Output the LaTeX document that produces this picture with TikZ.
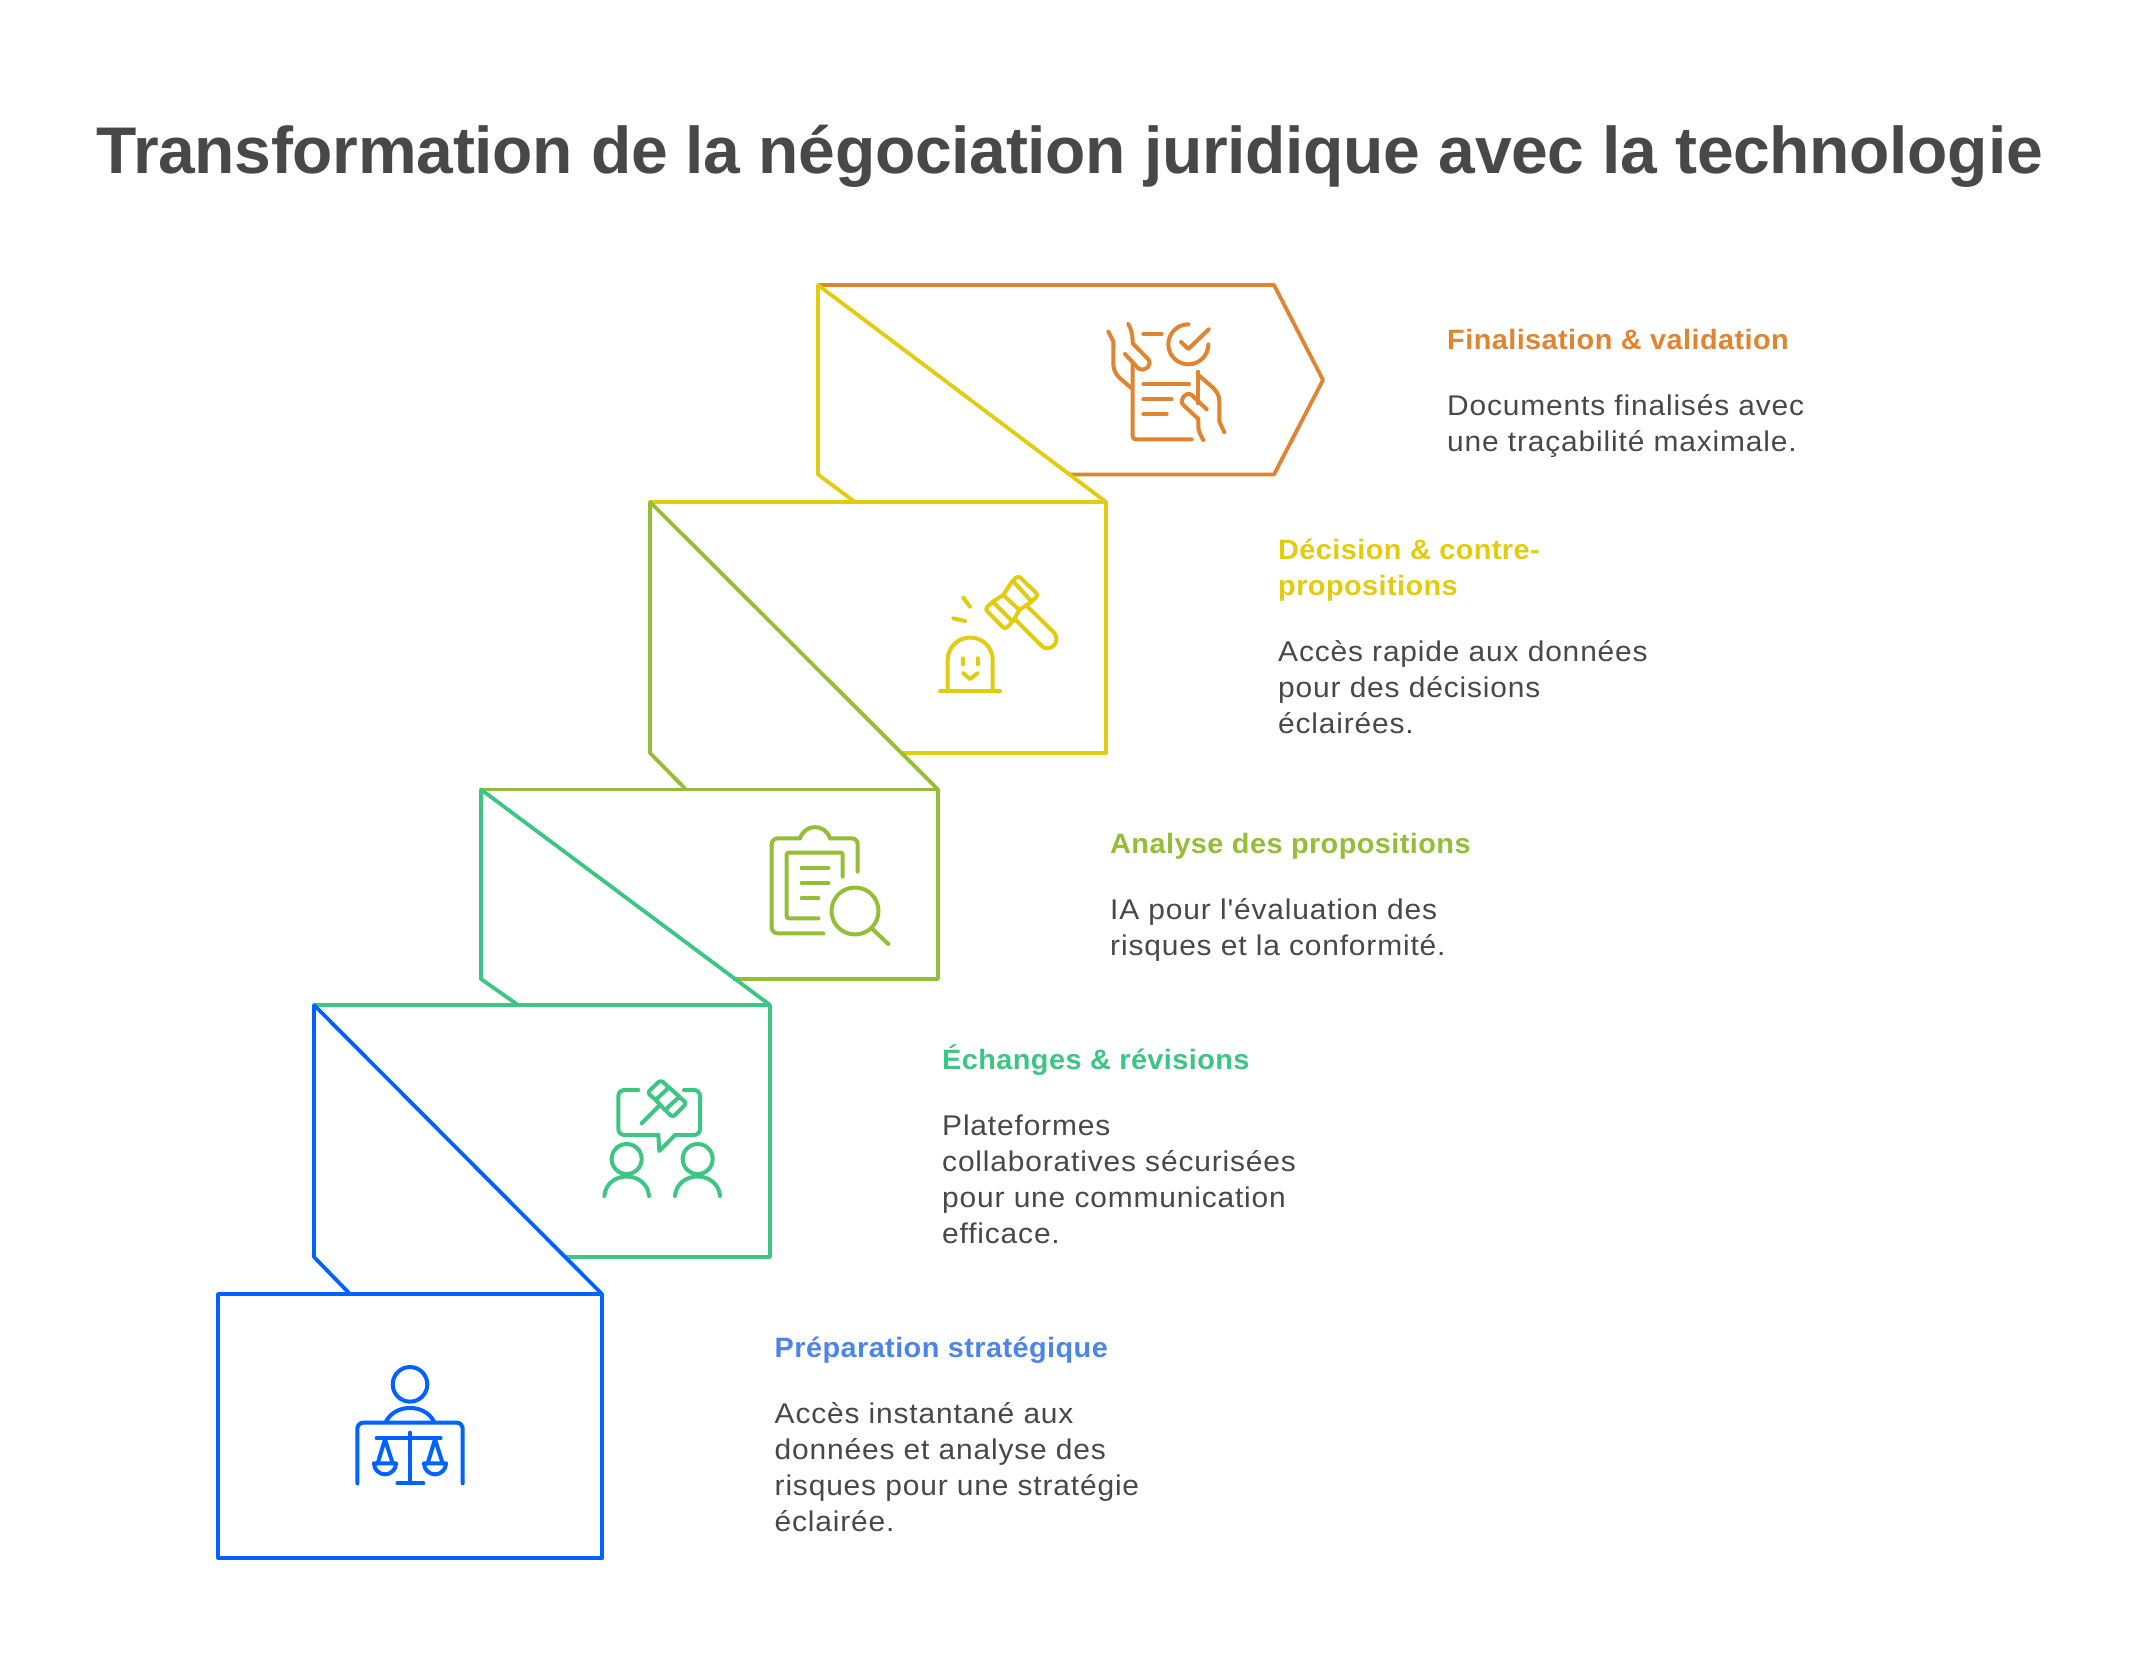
\documentclass[tikz,border=0pt]{standalone}
\usepackage{fontspec}
\setmainfont{Liberation Sans}
\newfontfamily\bodyf[FakeStretch=1.05,LetterSpace=2.95]{Liberation Sans}
\newfontfamily\headf[FakeStretch=1.03,LetterSpace=1.6]{Liberation Sans Bold}
\newfontfamily\titlef[LetterSpace=-0.45]{Liberation Sans Bold}
\definecolor{cblue}{HTML}{0062FF}
\definecolor{cbluet}{HTML}{4B85EA}
\definecolor{cgreen}{HTML}{3CC583}
\definecolor{clime}{HTML}{93BE35}
\definecolor{cyellow}{HTML}{E3CC10}
\definecolor{corange}{HTML}{E08430}
\definecolor{cgrey}{HTML}{484848}
\tikzset{
  outl/.style={draw=#1,line width=3.8pt,line join=round,line cap=butt},
  ico/.style={draw=#1,line width=4pt,line join=round,line cap=round},
  bodytxt/.style={anchor=north west,inner sep=0pt,align=left,text=cgrey,font=\bodyf\fontsize{28.5}{36}\selectfont},
  headtxt/.style={anchor=north west,inner sep=0pt,align=left,text=#1,font=\headf\fontsize{28}{36}\selectfont},
  titletxt/.style={anchor=base,inner sep=0pt,text=cgrey,font=\titlef\fontsize{66}{72}\selectfont},
  icozoom/.style={shift={#1},x=0.33333pt,y=-0.33333pt}
}
\begin{document}
\begin{tikzpicture}[x=1pt,y=-1pt]
\useasboundingbox (0,0) rectangle (2138,1680);
\fill[white] (0,0) rectangle (2138,1680);
\node[titletxt] (title) at (1069.6,173.5) {Transformation de la négociation juridique avec la technologie};

% outlines, from the top step down
\draw[outl=corange] (818,285) -- (1274,285) -- (1323,380) -- (1274,474.5) -- (1070,474.5);
\draw[outl=cyellow] (855,502) -- (818,474.5) -- (818,285) -- (1106,502);
\draw[outl=cyellow] (650,502) -- (1106,502) -- (1106,753) -- (901,753);
\draw[outl=clime] (686,789.5) -- (650,753) -- (650,502) -- (938,789.5);
\draw[outl=clime] (481,789.5) -- (938,789.5) -- (938,979) -- (733,979);
\draw[outl=cgreen] (518,1005) -- (481,979) -- (481,789.5) -- (770,1005);
\draw[outl=cgreen] (314,1005) -- (770,1005) -- (770,1257) -- (566,1257);
\draw[outl=cblue] (350,1294) -- (314,1257) -- (314,1005) -- (602,1294);
\draw[outl=cblue] (218,1294) rectangle (602,1558);

% orange icon
\begin{scope}[icozoom={(1080,300)}]
\draw[ico=corange] (85,95) -- (100,125) -- (100,195) .. controls (102,215) and (110,225) .. (120,235) -- (155,265);
\draw[ico=corange] (145,72) .. controls (152,85) and (158,100) .. (158,130) -- (205,178) .. controls (218,195) and (195,218) .. (175,205) -- (135,162);
\draw[ico=corange,rounded corners=3pt] (158,190) -- (158,418) -- (335,418);
\draw[ico=corange] (190,102) -- (245,102);
\draw[ico=corange] (325,73) arc[start angle=90,end angle=360,radius=20pt];
\draw[ico=corange] (303,126) -- (325,147) -- (386,88);
\draw[ico=corange] (190,253) -- (327,253);
\draw[ico=corange] (190,298) -- (275,298);
\draw[ico=corange] (190,343) -- (260,343);
\draw[ico=corange] (355,215) -- (355,310);
\draw[ico=corange] (355,225) -- (390,255) .. controls (410,272) and (418,285) .. (418,305) -- (418,365) -- (433,397);
\draw[ico=corange] (380,328) -- (335,285) .. controls (318,272) and (295,300) .. (310,315) -- (355,357) -- (355,385) .. controls (358,398) and (363,408) .. (370,420);
\end{scope}

% yellow icon
\begin{scope}[icozoom={(920,560)}]
\draw[ico=cyellow,rounded corners=3pt] (218,125) -- (195,147) -- (255,208) -- (278,185) -- cycle;
\draw[ico=cyellow,rounded corners=3pt] (278,62) -- (295,47) -- (355,105) -- (335,125) -- cycle;
\draw[ico=cyellow] (218,125) -- (250,105) -- (278,62);
\draw[ico=cyellow] (278,185) -- (298,150) -- (335,125);
\draw[ico=cyellow] (250,105) -- (298,150);
\draw[ico=cyellow] (318,135) -- (402,218) .. controls (425,245) and (390,280) .. (365,258) -- (285,178);
\draw[ico=cyellow] (130,113) -- (150,140);
\draw[ico=cyellow] (100,175) -- (135,183);
\draw[ico=cyellow] (83,393) -- (83,300) arc[start angle=180,end angle=0,radius=22.5pt] -- (218,393);
\draw[ico=cyellow] (60,394) -- (240,394);
\draw[ico=cyellow] (128,295) -- (128,313);
\draw[ico=cyellow] (173,295) -- (173,313);
\draw[ico=cyellow] (130,340) -- (150,357) -- (172,340);
\end{scope}

% lime icon
\begin{scope}[icozoom={(750,810)}]
\draw[ico=clime,rounded corners=6pt] (220,370) -- (65,370) -- (65,85) -- (150,85);
\draw[ico=clime] (150,85) .. controls (165,40) and (225,40) .. (240,85);
\draw[ico=clime,rounded corners=6pt] (240,85) -- (323,85) -- (323,185);
\draw[ico=clime,rounded corners=2pt] (205,325) -- (110,325) -- (110,128) -- (278,128) -- (278,200);
\draw[ico=clime] (155,175) -- (235,175);
\draw[ico=clime] (155,220) -- (235,220);
\draw[ico=clime] (155,265) -- (205,265);
\draw[ico=clime] (315,303) circle[radius=23.5pt];
\draw[ico=clime] (365,355) -- (415,402);
\end{scope}

% green icon
\begin{scope}[icozoom={(590,1070)}]
\draw[ico=cgreen,rounded corners=6pt] (145,60) -- (85,60) -- (85,195) -- (205,195);
\draw[ico=cgreen] (205,195) -- (208,243) -- (255,195);
\draw[ico=cgreen,rounded corners=6pt] (255,195) -- (330,195) -- (330,60) -- (282,60);
\draw[ico=cgreen,rounded corners=3pt] (172,68) -- (212,30) -- (237,52) -- (197,90) -- cycle;
\draw[ico=cgreen,rounded corners=3pt] (225,120) -- (268,80) -- (290,100) -- (248,142) -- cycle;
\draw[ico=cgreen] (197,90) -- (225,120);
\draw[ico=cgreen] (237,52) -- (268,80);
\draw[ico=cgreen] (155,160) -- (210,105);
\draw[ico=cgreen] (110,267) circle[radius=15pt];
\draw[ico=cgreen] (43,378) .. controls (50,300) and (170,300) .. (177,378);
\draw[ico=cgreen] (323,267) circle[radius=15pt];
\draw[ico=cgreen] (255,378) .. controls (262,300) and (383,300) .. (390,378);
\end{scope}

% blue icon
\begin{scope}[icozoom={(340,1350)}]
\draw[ico=cblue] (210,103) circle[radius=17.3pt];
\draw[ico=cblue] (138,215) .. controls (165,160) and (255,160) .. (282,215);
\draw[ico=cblue,rounded corners=6pt] (52,400) -- (52,218) -- (368,218) -- (368,400);
\draw[ico=cblue] (210,248) -- (210,400);
\draw[ico=cblue] (172,400) -- (250,400);
\draw[ico=cblue] (110,265) -- (302,265);
\draw[ico=cblue] (113,340) -- (135,268) -- (158,340);
\draw[ico=cblue] (263,340) -- (285,268) -- (308,340);
\draw[ico=cblue] (103,340) -- (168,340) arc[start angle=0,end angle=-180,radius=11pt];
\draw[ico=cblue] (252,340) -- (318,340) arc[start angle=0,end angle=-180,radius=11pt];
\end{scope}

% texts: top = baseline - 25.2
\node[headtxt=corange] (h5) at (1447,323.6) {\strut Finalisation \& validation};
\node[bodytxt] (b5) at (1447,389.6) {\strut Documents finalisés avec\\\strut une traçabilité maximale.};
\node[headtxt=cyellow] (h4) at (1278,533.6) {\strut Décision \& contre-\\\strut propositions};
\node[bodytxt] (b4) at (1278,635.6) {\strut Accès rapide aux données\\\strut pour des décisions\\\strut éclairées.};
\node[headtxt=clime] (h3) at (1110,828.1) {\strut Analyse des propositions};
\node[bodytxt] (b3) at (1110,893.6) {\strut IA pour l'évaluation des\\\strut risques et la conformité.};
\node[headtxt=cgreen] (h2) at (942,1043.6) {\strut Échanges \& révisions};
\node[bodytxt] (b2) at (942,1109.6) {\strut Plateformes\\\strut collaboratives sécurisées\\\strut pour une communication\\\strut efficace.};
\node[headtxt=cbluet] (h1) at (774.5,1331.6) {\strut Préparation stratégique};
\node[bodytxt] (b1) at (774.5,1397.6) {\strut Accès instantané aux\\\strut données et analyse des\\\strut risques pour une stratégie\\\strut éclairée.};
\end{tikzpicture}
\end{document}
